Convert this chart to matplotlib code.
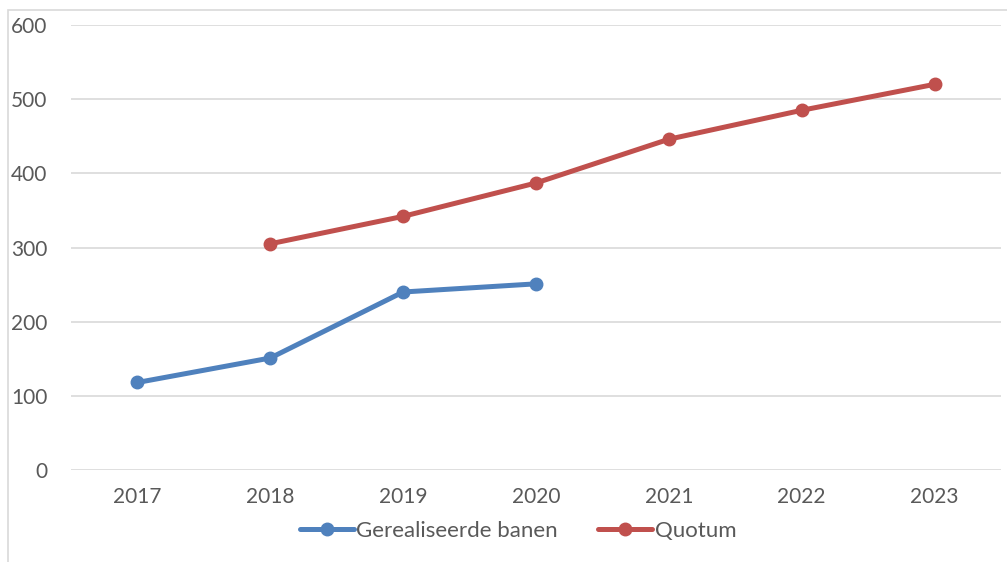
import matplotlib
matplotlib.use("Agg")
import matplotlib.pyplot as plt
from matplotlib.patches import Rectangle

years = ["2017", "2018", "2019", "2020", "2021", "2022", "2023"]
gerealiseerde_years = ["2017", "2018", "2019", "2020"]
gerealiseerde = [118, 151, 240, 251]
quotum_years = ["2018", "2019", "2020", "2021", "2022", "2023"]
quotum = [305, 342, 387, 446, 485, 520]
yticks = [0, 100, 200, 300, 400, 500, 600]

plt.rcParams['font.family'] = ['Lato', 'DejaVu Sans']
W, H = 1007, 562
fig = plt.figure(figsize=(W/100, H/100), dpi=100)
ax = fig.add_axes([71/W, 1-470/H, (1001-71)/W, (470-25)/H])

# chart border
fig.patches.append(Rectangle((8/W, -0.1), 1.2, (1-10/H)+0.1, transform=fig.transFigure,
                             fill=False, edgecolor='#d9d9d9', linewidth=1.2, zorder=0))

xpos = {y: i for i, y in enumerate(years)}
blue = '#4F81BD'
red = '#C0504D'
ax.plot([xpos[y] for y in gerealiseerde_years], gerealiseerde, color=blue, lw=3.6,
        marker='o', ms=9, label='Gerealiseerde banen', solid_capstyle='round')
ax.plot([xpos[y] for y in quotum_years], quotum, color=red, lw=3.6,
        marker='o', ms=9, label='Quotum', solid_capstyle='round')

ax.set_xlim(-0.5, len(years) - 0.5)
ax.set_ylim(0, 600)
ax.set_yticks(yticks)
ax.set_xticks(range(len(years)))
ax.set_xticklabels(years)
ax.grid(axis='y', color='#d9d9d9', lw=1.2)
ax.set_axisbelow(True)
for s in ax.spines.values():
    s.set_visible(False)
ax.tick_params(length=0, labelsize=15, colors='#595959')
ax.tick_params(axis='y', pad=17)
ax.tick_params(axis='x', pad=12)
for lab in ax.get_yticklabels():
    lab.set_horizontalalignment('right')

leg = ax.legend(loc='center', bbox_to_anchor=((518-71)/(1001-71), (470-531)/(470-25)),
                ncol=2, frameon=False, fontsize=16, handlelength=2.45, handletextpad=0.1,
                columnspacing=1.8, labelcolor='#595959')

fig.savefig('out.png', dpi=100)
